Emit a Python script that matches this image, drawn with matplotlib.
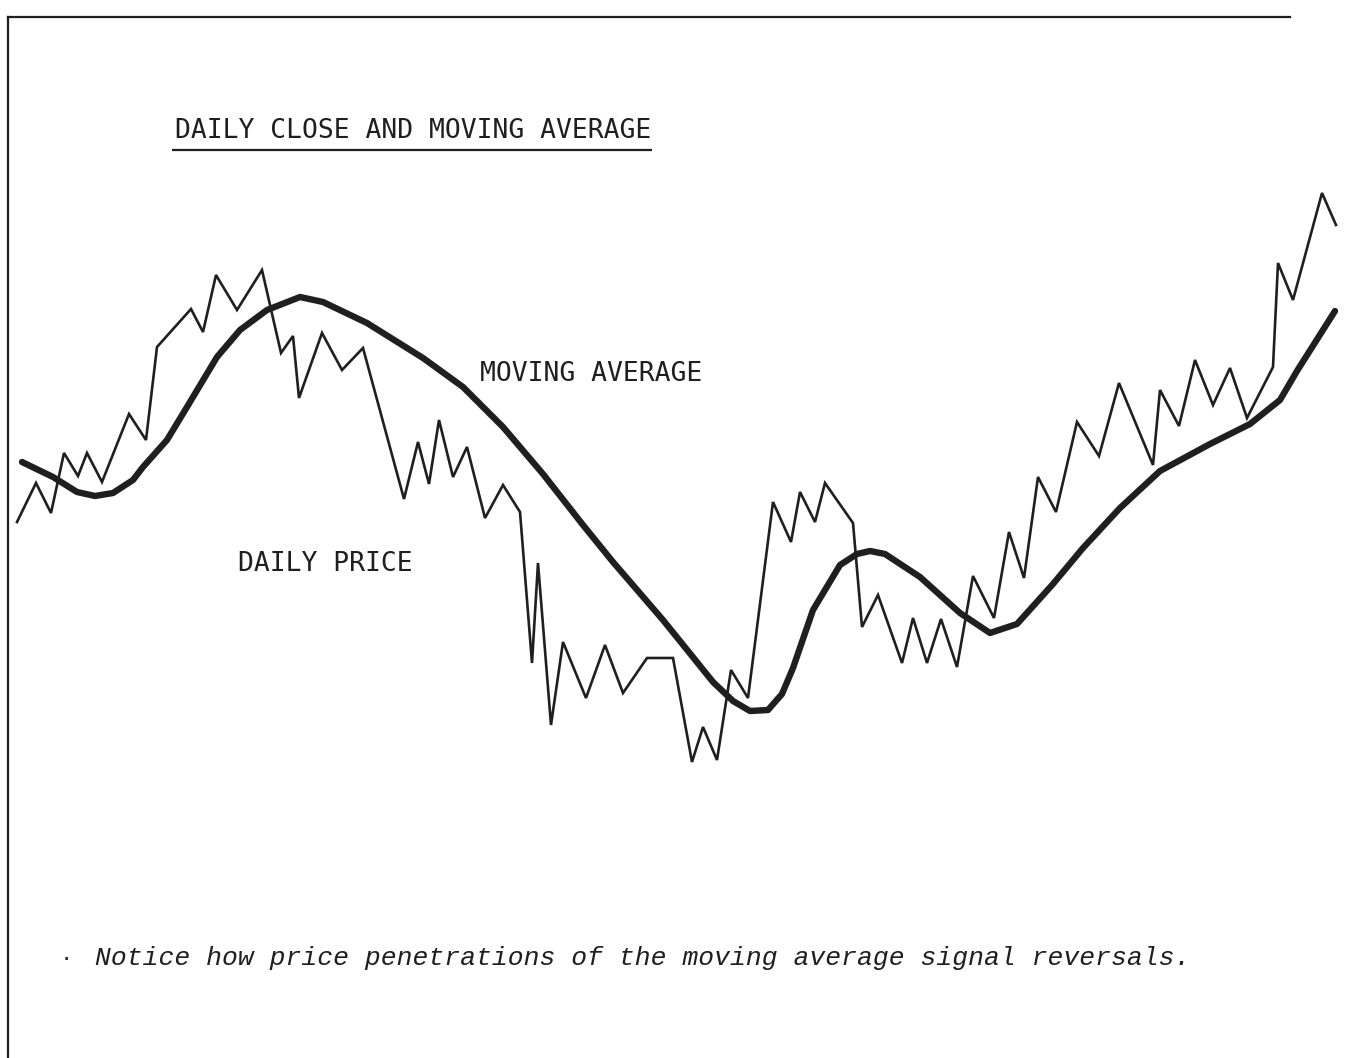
import numpy as np
import matplotlib
matplotlib.use("Agg")
import matplotlib.pyplot as plt

# daily closes (trading day, price)
price_day = [0.7, 2.6, 4.1, 5.4, 6.8, 7.7, 9.2, 11.9, 13.6, 14.7, 18.1, 19.3, 20.6, 22.7,
             25.2, 27.1, 28.3, 28.9, 31.2, 33.2, 35.3, 39.4, 40.8, 41.9, 42.9, 44.3, 45.7,
             47.5, 49.3, 51.0, 52.2, 52.8, 54.1, 55.3, 57.6, 59.5, 61.3, 63.7, 66.3, 68.2,
             69.3, 70.7, 72.1, 73.8, 76.3, 78.1, 79.0, 80.5, 81.5, 84.3, 85.2, 86.8, 89.2,
             90.3, 91.7, 93.1, 94.7, 96.3, 98.4, 99.9, 101.4, 102.8, 104.6, 106.7, 108.9,
             110.9, 114.3, 115.0, 116.9, 118.5, 120.3, 122.0, 123.7, 126.3, 126.8, 128.3,
             131.2, 132.6]
price = [27.8, 31.7, 28.7, 34.7, 32.4, 34.7, 31.8, 38.6, 36.0, 45.3, 49.1, 46.8, 52.5, 49.0,
         53.0, 44.7, 46.4, 40.2, 46.7, 43.0, 45.2, 30.1, 35.8, 31.6, 38.0, 32.3, 35.3,
         28.2, 31.5, 28.8, 13.7, 23.7, 7.5, 15.8, 10.2, 15.5, 10.7, 14.2, 14.2, 3.8,
         7.3, 4.0, 13.0, 10.2, 29.8, 25.8, 30.8, 27.8, 31.7, 27.7, 17.3, 20.5, 13.7,
         18.2, 13.7, 18.1, 13.3, 22.4, 18.2, 26.8, 22.2, 32.3, 28.8, 37.8, 34.4,
         41.7, 33.5, 41.0, 37.4, 44.0, 39.5, 43.2, 38.2, 43.3, 53.7, 50.0,
         60.7, 57.5]

# moving average
ma_day = [1.2, 4.3, 6.7, 8.5, 10.3, 12.3, 13.3, 15.7, 17.7, 20.7, 23.0, 25.7, 29.0, 31.3,
          35.7, 41.3, 45.3, 49.3, 53.3, 57.3, 60.3, 65.3, 70.3, 72.3, 74.0, 75.8, 77.2,
          78.3, 80.3, 83.0, 84.7, 86.0, 87.5, 91.0, 95.0, 98.0, 100.7, 104.3, 107.3,
          111.0, 115.0, 120.0, 124.0, 127.0, 128.7, 132.5]
ma = [33.8, 32.3, 30.8, 30.4, 30.7, 32.0, 33.3, 36.0, 39.3, 44.3, 47.0, 49.0, 50.3, 49.8,
      47.7, 44.2, 41.3, 37.3, 32.6, 27.5, 23.8, 18.0, 11.8, 9.9, 8.9, 9.0, 10.6,
      13.2, 19.0, 23.5, 24.6, 24.9, 24.6, 22.3, 18.7, 16.7, 17.6, 21.6, 25.2,
      29.2, 32.9, 35.6, 37.6, 40.0, 42.9, 48.9]

title = "DAILY CLOSE AND MOVING AVERAGE"
ma_label = "MOVING AVERAGE"
price_label = "DAILY PRICE"
caption = "Notice how price penetrations of the moving average signal reversals."

ink = "#1f1f1f"

fig = plt.figure(figsize=(13.56, 10.58), dpi=100)
ax = fig.add_axes([8 / 1356, 0, 1348 / 1356, 1041 / 1058])
ax.set_xlim(-0.2, 134.6)
ax.set_ylim(-25.8, 78.3)

ax.plot(price_day, price, color=ink, lw=1.9, solid_joinstyle="miter")
ax.plot(ma_day, ma, color=ink, lw=4.6, solid_joinstyle="round", solid_capstyle="round")

# frame: only top and left rules
for s in ["right", "bottom"]:
    ax.spines[s].set_visible(False)
ax.spines["top"].set_color(ink)
ax.spines["left"].set_color(ink)
ax.spines["top"].set_linewidth(1.6)
ax.spines["left"].set_linewidth(1.6)
ax.spines["top"].set_bounds(-0.2, 128.0)
ax.set_xticks([])
ax.set_yticks([])

mono = "DejaVu Sans Mono"
ax.text(16.5, 66.9, title, family=mono, fontsize=19, color=ink, va="center", ha="left")
ax.hlines(65.0, 16.2, 64.2, color=ink, lw=1.6)
ax.text(47.0, 42.6, ma_label, family=mono, fontsize=19, color=ink, va="center", ha="left")
ax.text(22.8, 23.6, price_label, family=mono, fontsize=19, color=ink, va="center", ha="left")

ax.text(5.0, -16.0, "·", family="Liberation Mono", fontsize=16, color=ink, va="center")
ax.text(8.5, -15.8, caption, family="Liberation Mono", style="italic", fontsize=19,
        color=ink, va="center", ha="left")

fig.savefig("out.png", dpi=100, facecolor="white")
